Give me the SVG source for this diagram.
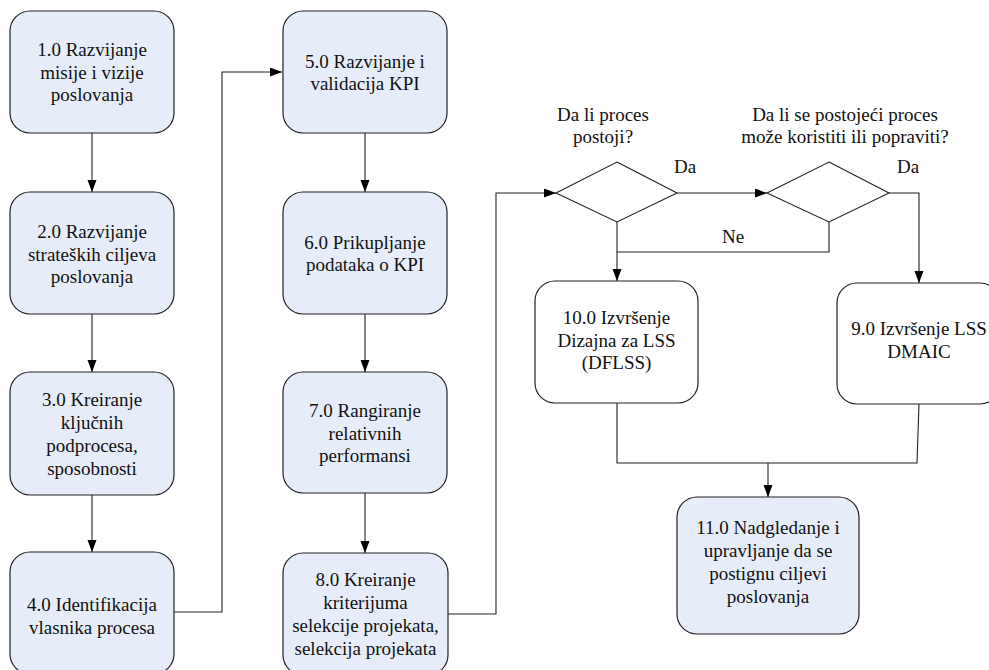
<svg xmlns="http://www.w3.org/2000/svg" width="989" height="670" viewBox="0 0 989 670">
  <defs>
    <marker id="arrow" markerUnits="userSpaceOnUse" markerWidth="12" markerHeight="10" refX="12" refY="4.5" orient="auto">
      <path d="M0,0 L12,4.5 L0,9 z" fill="#000"/>
    </marker>
    <style>
      .box { fill: #e7edf8; stroke: #222; stroke-width: 1.2; }
      .box-w { fill: #fff; stroke: #222; stroke-width: 1.2; }
      .dec { fill: #fff; stroke: #222; stroke-width: 1.1; }
      text { font-family: "Liberation Serif", "Times New Roman", serif; font-size: 19px; fill: #111; }
      .lbl { text-anchor: middle; }
      .conn { fill: none; stroke: #222; stroke-width: 1.1; }
    </style>
  </defs>
  <rect width="989" height="670" fill="#fff"/>

  <!-- connectors and branch labels -->
  <g id="connectors">
    <path class="conn" d="M92,133 V192" marker-end="url(#arrow)"/>
    <path class="conn" d="M92,314 V372" marker-end="url(#arrow)"/>
    <path class="conn" d="M92,495 V552" marker-end="url(#arrow)"/>
    <path class="conn" d="M174,612 H222 V72 H282" marker-end="url(#arrow)"/>
    <path class="conn" d="M365,133 V192" marker-end="url(#arrow)"/>
    <path class="conn" d="M365,314 V372" marker-end="url(#arrow)"/>
    <path class="conn" d="M365,493 V553" marker-end="url(#arrow)"/>
    <path class="conn" d="M448,614 H496 V193 H556" marker-end="url(#arrow)"/>
    <path class="conn" d="M677,193 H767" marker-end="url(#arrow)"/>
    <path class="conn" d="M889,193 H919 V283" marker-end="url(#arrow)"/>
    <path class="conn" d="M829,222 V252 H617"/>
    <path class="conn" d="M617,222 V281" marker-end="url(#arrow)"/>
    <path class="conn" d="M617,403 V463 H917 L919,404"/>
    <path class="conn" d="M768,463 V497" marker-end="url(#arrow)"/>
    <text x="674" y="173">Da</text>
    <text x="897" y="173">Da</text>
    <text x="722" y="243">Ne</text>
  </g>

  <!-- column 1 -->
  <g id="n1">
    <rect class="box" x="10" y="11" width="164" height="122" rx="20"/>
    <text class="lbl"><tspan x="92" y="56">1.0 Razvijanje</tspan><tspan x="92" y="78.5">misije i vizije</tspan><tspan x="92" y="101">poslovanja</tspan></text>
  </g>
  <g id="n2">
    <rect class="box" x="10" y="192" width="164" height="122" rx="20"/>
    <text class="lbl"><tspan x="92" y="238">2.0 Razvijanje</tspan><tspan x="92" y="260.5">strateških ciljeva</tspan><tspan x="92" y="283">poslovanja</tspan></text>
  </g>
  <g id="n3">
    <rect class="box" x="10" y="372" width="164" height="123" rx="20"/>
    <text class="lbl"><tspan x="92" y="405.5">3.0 Kreiranje</tspan><tspan x="92" y="428.5">ključnih</tspan><tspan x="92" y="451.5">podprocesa,</tspan><tspan x="92" y="474.5">sposobnosti</tspan></text>
  </g>
  <g id="n4">
    <rect class="box" x="10" y="552" width="164" height="122" rx="20"/>
    <text class="lbl"><tspan x="92" y="611">4.0 Identifikacija</tspan><tspan x="92" y="633.5">vlasnika procesa</tspan></text>
  </g>

  <!-- column 2 -->
  <g id="n5">
    <rect class="box" x="283" y="11" width="164" height="122" rx="20"/>
    <text class="lbl"><tspan x="365" y="68">5.0 Razvijanje i</tspan><tspan x="365" y="90">validacija KPI</tspan></text>
  </g>
  <g id="n6">
    <rect class="box" x="283" y="192" width="164" height="122" rx="20"/>
    <text class="lbl"><tspan x="365" y="249">6.0 Prikupljanje</tspan><tspan x="365" y="271">podataka o KPI</tspan></text>
  </g>
  <g id="n7">
    <rect class="box" x="283" y="372" width="164" height="121" rx="20"/>
    <text class="lbl"><tspan x="365" y="417">7.0 Rangiranje</tspan><tspan x="365" y="439.5">relativnih</tspan><tspan x="365" y="462">performansi</tspan></text>
  </g>
  <g id="n8">
    <rect class="box" x="283" y="553" width="165" height="122" rx="20"/>
    <text class="lbl"><tspan x="365.5" y="586">8.0 Kreiranje</tspan><tspan x="365.5" y="609">kriterijuma</tspan><tspan x="365.5" y="632">selekcije projekata,</tspan><tspan x="365.5" y="655">selekcija projekata</tspan></text>
  </g>

  <!-- decisions -->
  <g id="d1">
    <polygon class="dec" points="617,162 677,193 617,222 556,193"/>
    <text class="lbl"><tspan x="603" y="121">Da li proces</tspan><tspan x="603" y="143">postoji?</tspan></text>
  </g>
  <g id="d2">
    <polygon class="dec" points="829,162 889,193 829,222 767,193"/>
    <text class="lbl"><tspan x="845" y="121">Da li se postojeći proces</tspan><tspan x="845" y="143">može koristiti ili popraviti?</tspan></text>
  </g>

  <!-- execution and monitoring -->
  <g id="n10">
    <rect class="box-w" x="535" y="281" width="163" height="122" rx="20"/>
    <text class="lbl"><tspan x="616.5" y="324">10.0 Izvršenje</tspan><tspan x="616.5" y="346.5">Dizajna za LSS</tspan><tspan x="616.5" y="369">(DFLSS)</tspan></text>
  </g>
  <g id="n9">
    <rect class="box-w" x="837" y="283" width="163" height="121" rx="20"/>
    <text class="lbl"><tspan x="919" y="335">9.0 Izvršenje LSS</tspan><tspan x="919" y="357.5">DMAIC</tspan></text>
  </g>
  <g id="n11">
    <rect class="box" x="677" y="497" width="182" height="137" rx="20"/>
    <text class="lbl"><tspan x="768" y="534">11.0 Nadgledanje i</tspan><tspan x="768" y="557">upravljanje da se</tspan><tspan x="768" y="580">postignu ciljevi</tspan><tspan x="768" y="603">poslovanja</tspan></text>
  </g>
</svg>
